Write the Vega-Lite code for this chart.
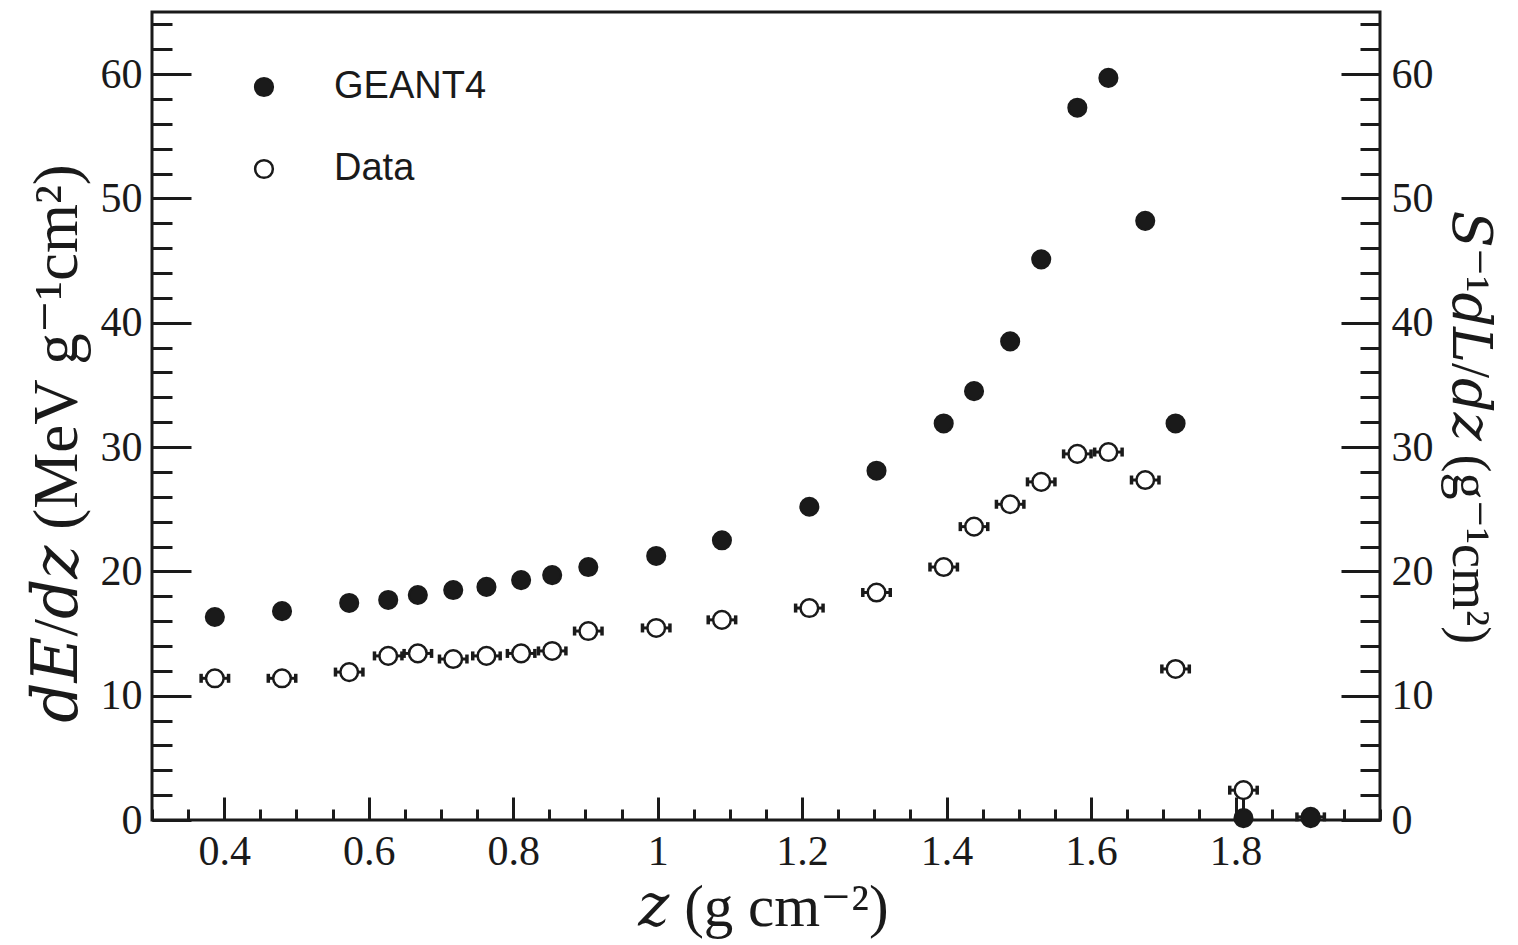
{
 "$schema": "https://vega.github.io/schema/vega-lite/v6.json",
 "width": 1228,
 "height": 808,
 "autosize": {"type": "none"},
 "padding": {"left": 152, "top": 12, "right": 138, "bottom": 125},
 "background": "white",
 "config": {
  "view": {"stroke": "#1a1a1a", "strokeWidth": 3},
  "axis": {"domain": false, "grid": false, "tickColor": "#1a1a1a", "tickWidth": 3, "labelFont": "Liberation Serif", "labelFontSize": 42, "labelColor": "#1a1a1a", "titleFont": "Liberation Serif, DejaVu Serif", "titleFontSize": 62, "titleFontWeight": "normal", "titleColor": "#1a1a1a"}
 },
 "data": {"values": [
  {"series": "Data", "z": 0.387, "y": 11.4, "zlo": 0.368, "zhi": 0.406, "ylo": 11.4},
  {"series": "Data", "z": 0.480, "y": 11.4, "zlo": 0.461, "zhi": 0.499, "ylo": 11.4},
  {"series": "Data", "z": 0.573, "y": 11.9, "zlo": 0.554, "zhi": 0.592, "ylo": 11.9},
  {"series": "Data", "z": 0.627, "y": 13.2, "zlo": 0.608, "zhi": 0.646, "ylo": 13.2},
  {"series": "Data", "z": 0.668, "y": 13.4, "zlo": 0.649, "zhi": 0.687, "ylo": 13.4},
  {"series": "Data", "z": 0.717, "y": 12.95, "zlo": 0.698, "zhi": 0.736, "ylo": 12.95},
  {"series": "Data", "z": 0.763, "y": 13.2, "zlo": 0.744, "zhi": 0.782, "ylo": 13.2},
  {"series": "Data", "z": 0.811, "y": 13.4, "zlo": 0.792, "zhi": 0.830, "ylo": 13.4},
  {"series": "Data", "z": 0.854, "y": 13.6, "zlo": 0.835, "zhi": 0.873, "ylo": 13.6},
  {"series": "Data", "z": 0.904, "y": 15.2, "zlo": 0.885, "zhi": 0.923, "ylo": 15.2},
  {"series": "Data", "z": 0.998, "y": 15.45, "zlo": 0.979, "zhi": 1.017, "ylo": 15.45},
  {"series": "Data", "z": 1.089, "y": 16.1, "zlo": 1.070, "zhi": 1.108, "ylo": 16.1},
  {"series": "Data", "z": 1.210, "y": 17.05, "zlo": 1.191, "zhi": 1.229, "ylo": 17.05},
  {"series": "Data", "z": 1.303, "y": 18.3, "zlo": 1.284, "zhi": 1.322, "ylo": 18.3},
  {"series": "Data", "z": 1.396, "y": 20.35, "zlo": 1.377, "zhi": 1.415, "ylo": 20.35},
  {"series": "Data", "z": 1.438, "y": 23.6, "zlo": 1.419, "zhi": 1.457, "ylo": 23.6},
  {"series": "Data", "z": 1.488, "y": 25.4, "zlo": 1.469, "zhi": 1.507, "ylo": 25.4},
  {"series": "Data", "z": 1.531, "y": 27.2, "zlo": 1.512, "zhi": 1.550, "ylo": 27.2},
  {"series": "Data", "z": 1.581, "y": 29.45, "zlo": 1.562, "zhi": 1.600, "ylo": 29.45},
  {"series": "Data", "z": 1.624, "y": 29.6, "zlo": 1.605, "zhi": 1.643, "ylo": 29.6},
  {"series": "Data", "z": 1.675, "y": 27.35, "zlo": 1.656, "zhi": 1.694, "ylo": 27.35},
  {"series": "Data", "z": 1.717, "y": 12.15, "zlo": 1.698, "zhi": 1.736, "ylo": 12.15},
  {"series": "Data", "z": 1.811, "y": 2.4, "zlo": 1.792, "zhi": 1.830, "ylo": 0.5},
  {"series": "Data", "z": 1.904, "y": 0.25, "zlo": 1.885, "zhi": 1.923, "ylo": 0.25},
  {"series": "GEANT4", "z": 0.387, "y": 16.33, "zlo": 0.387, "zhi": 0.387, "ylo": 16.33},
  {"series": "GEANT4", "z": 0.480, "y": 16.8, "zlo": 0.480, "zhi": 0.480, "ylo": 16.8},
  {"series": "GEANT4", "z": 0.573, "y": 17.46, "zlo": 0.573, "zhi": 0.573, "ylo": 17.46},
  {"series": "GEANT4", "z": 0.627, "y": 17.7, "zlo": 0.627, "zhi": 0.627, "ylo": 17.7},
  {"series": "GEANT4", "z": 0.668, "y": 18.1, "zlo": 0.668, "zhi": 0.668, "ylo": 18.1},
  {"series": "GEANT4", "z": 0.717, "y": 18.5, "zlo": 0.717, "zhi": 0.717, "ylo": 18.5},
  {"series": "GEANT4", "z": 0.763, "y": 18.75, "zlo": 0.763, "zhi": 0.763, "ylo": 18.75},
  {"series": "GEANT4", "z": 0.811, "y": 19.3, "zlo": 0.811, "zhi": 0.811, "ylo": 19.3},
  {"series": "GEANT4", "z": 0.854, "y": 19.7, "zlo": 0.854, "zhi": 0.854, "ylo": 19.7},
  {"series": "GEANT4", "z": 0.904, "y": 20.35, "zlo": 0.904, "zhi": 0.904, "ylo": 20.35},
  {"series": "GEANT4", "z": 0.998, "y": 21.24, "zlo": 0.998, "zhi": 0.998, "ylo": 21.24},
  {"series": "GEANT4", "z": 1.089, "y": 22.5, "zlo": 1.089, "zhi": 1.089, "ylo": 22.5},
  {"series": "GEANT4", "z": 1.210, "y": 25.2, "zlo": 1.210, "zhi": 1.210, "ylo": 25.2},
  {"series": "GEANT4", "z": 1.303, "y": 28.1, "zlo": 1.303, "zhi": 1.303, "ylo": 28.1},
  {"series": "GEANT4", "z": 1.396, "y": 31.9, "zlo": 1.396, "zhi": 1.396, "ylo": 31.9},
  {"series": "GEANT4", "z": 1.438, "y": 34.5, "zlo": 1.438, "zhi": 1.438, "ylo": 34.5},
  {"series": "GEANT4", "z": 1.488, "y": 38.5, "zlo": 1.488, "zhi": 1.488, "ylo": 38.5},
  {"series": "GEANT4", "z": 1.531, "y": 45.1, "zlo": 1.531, "zhi": 1.531, "ylo": 45.1},
  {"series": "GEANT4", "z": 1.581, "y": 57.3, "zlo": 1.581, "zhi": 1.581, "ylo": 57.3},
  {"series": "GEANT4", "z": 1.624, "y": 59.7, "zlo": 1.624, "zhi": 1.624, "ylo": 59.7},
  {"series": "GEANT4", "z": 1.675, "y": 48.2, "zlo": 1.675, "zhi": 1.675, "ylo": 48.2},
  {"series": "GEANT4", "z": 1.717, "y": 31.9, "zlo": 1.717, "zhi": 1.717, "ylo": 31.9},
  {"series": "GEANT4", "z": 1.811, "y": 0.15, "zlo": 1.811, "zhi": 1.811, "ylo": 0.15},
  {"series": "GEANT4", "z": 1.904, "y": 0.15, "zlo": 1.904, "zhi": 1.904, "ylo": 0.15}
 ]},
 "resolve": {"axis": {"x": "independent", "y": "independent"}},
 "layer": [
  {
   "transform": [{"filter": "datum.series === 'Data'"}],
   "mark": {"type": "rule", "color": "#1a1a1a", "strokeWidth": 3},
   "encoding": {
    "x": {"field": "zlo", "type": "quantitative", "scale": {"domain": [0.3, 2.0], "nice": false, "zero": false},
     "axis": {"orient": "bottom", "values": [0.4, 0.6, 0.8, 1, 1.2, 1.4, 1.6, 1.8], "format": "~g", "tickSize": -23, "labelPadding": 34, "title": "𝑧 (g cm⁻²)", "titleFontSize": 59, "titleX": 611, "titleY": 105, "titleBaseline": "alphabetic", "titleAlign": "center"}},
    "x2": {"field": "zhi"},
    "y": {"field": "y", "type": "quantitative", "scale": {"domain": [0, 65], "nice": false, "zero": true},
     "axis": {"orient": "left", "values": [0, 10, 20, 30, 40, 50, 60], "tickSize": -39, "labelPadding": 49, "title": "𝑑𝐸/𝑑𝑧 (MeV g⁻¹cm²)", "titleFontSize": 63, "titleX": -76, "titleY": 431, "titleAngle": -90, "titleBaseline": "alphabetic", "titleAlign": "center"}}
   }
  },
  {
   "transform": [{"filter": "datum.series === 'Data'"}],
   "mark": {"type": "tick", "orient": "vertical", "size": 9, "thickness": 3.5, "color": "#1a1a1a", "opacity": 1},
   "encoding": {
    "x": {"field": "zlo", "type": "quantitative",
     "axis": {"orient": "bottom", "values": [0.3, 0.35, 0.4, 0.45, 0.5, 0.55, 0.6, 0.65, 0.7, 0.75, 0.8, 0.85, 0.9, 0.95, 1.0, 1.05, 1.1, 1.15, 1.2, 1.25, 1.3, 1.35, 1.4, 1.45, 1.5, 1.55, 1.6, 1.65, 1.7, 1.75, 1.8, 1.85, 1.9, 1.95, 2.0], "tickSize": -11, "labels": false, "title": null}},
    "y": {"field": "y", "type": "quantitative",
     "axis": {"orient": "left", "values": [0, 2, 4, 6, 8, 10, 12, 14, 16, 18, 20, 22, 24, 26, 28, 30, 32, 34, 36, 38, 40, 42, 44, 46, 48, 50, 52, 54, 56, 58, 60, 62, 64], "tickSize": -20, "labels": false, "title": null}}
   }
  },
  {
   "transform": [{"filter": "datum.series === 'Data'"}],
   "mark": {"type": "tick", "orient": "vertical", "size": 9, "thickness": 3.5, "color": "#1a1a1a", "opacity": 1},
   "encoding": {
    "x": {"field": "zhi", "type": "quantitative", "axis": null},
    "y": {"field": "y", "type": "quantitative",
     "axis": {"orient": "right", "values": [0, 10, 20, 30, 40, 50, 60], "tickSize": -39, "labelPadding": 50, "title": "𝑆⁻¹𝑑𝐿/𝑑𝑧 (g⁻¹cm²)", "titleFontSize": 54, "titleX": 72, "titleY": 415, "titleAngle": 90, "titleBaseline": "alphabetic", "titleAlign": "center"}}
   }
  },
  {
   "transform": [{"filter": "datum.series === 'Data'"}],
   "mark": {"type": "rule", "color": "#1a1a1a", "strokeWidth": 3},
   "encoding": {
    "x": {"field": "z", "type": "quantitative", "axis": null},
    "y": {"field": "ylo", "type": "quantitative",
     "axis": {"orient": "right", "values": [0, 2, 4, 6, 8, 10, 12, 14, 16, 18, 20, 22, 24, 26, 28, 30, 32, 34, 36, 38, 40, 42, 44, 46, 48, 50, 52, 54, 56, 58, 60, 62, 64], "tickSize": -20, "labels": false, "title": null}},
    "y2": {"field": "y"}
   }
  },
  {
   "mark": {"type": "point", "shape": "circle", "size": 310, "stroke": "#1a1a1a", "strokeWidth": 2.5, "opacity": 1, "fillOpacity": 1},
   "encoding": {
    "x": {"field": "z", "type": "quantitative", "axis": null},
    "y": {"field": "y", "type": "quantitative", "axis": null},
    "fill": {"field": "series", "type": "nominal", "sort": null,
     "scale": {"domain": ["GEANT4", "Data"], "range": ["#1a1a1a", "#ffffff"]},
     "legend": {"orient": "none", "legendX": 93, "legendY": 56, "title": null, "labelFont": "Liberation Sans", "labelFontSize": 38, "labelColor": "#1a1a1a", "symbolType": "circle", "symbolSize": 314, "symbolStrokeColor": "#1a1a1a", "symbolStrokeWidth": 2.5, "symbolOpacity": 1, "rowPadding": 44, "labelOffset": 51, "padding": 0}}
   }
  }
 ]
}
